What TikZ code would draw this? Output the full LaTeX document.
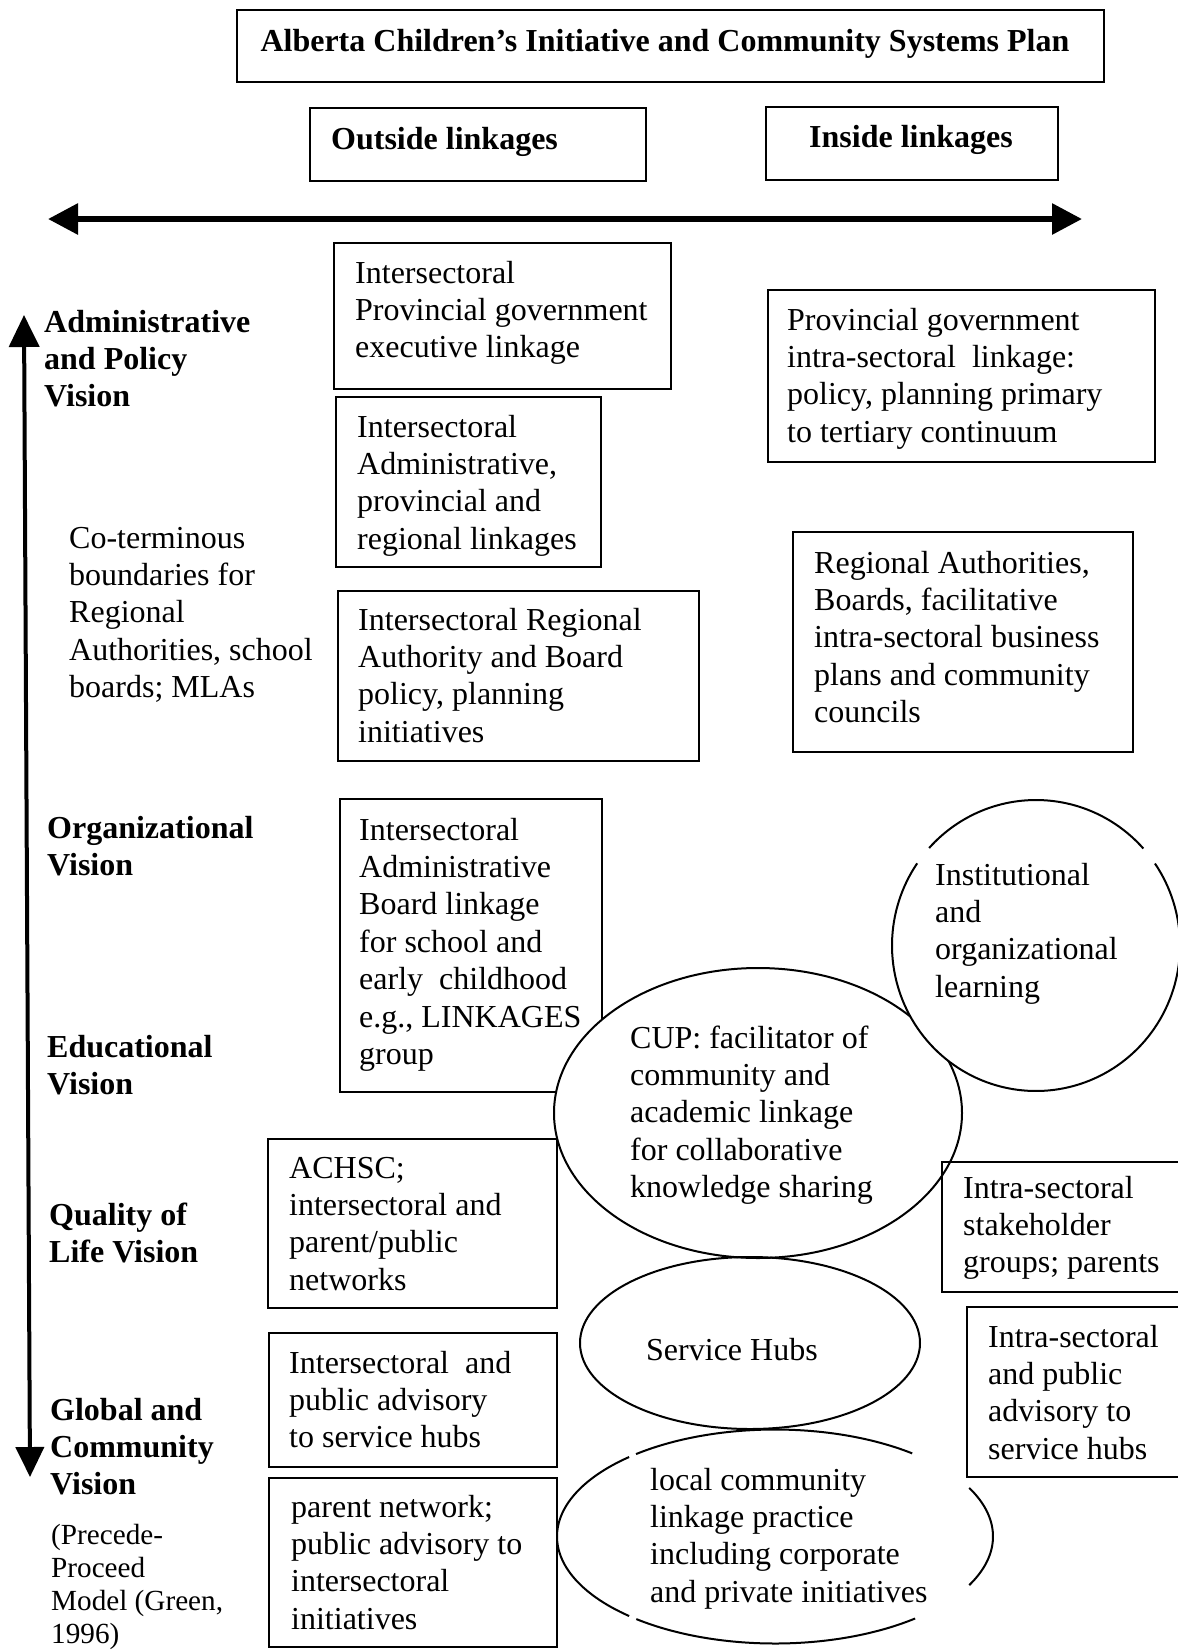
\documentclass[tikz,border=0pt]{standalone}
\usepackage{fontspec}
\setmainfont{Liberation Serif}
\usetikzlibrary{arrows.meta}
\newcommand\tb[1]{\begin{tabular}[t]{@{}l@{}}#1\end{tabular}}
\tikzset{
  box/.style={draw=black, line width=2.2pt},
  txt/.style={anchor=base west, inner sep=0pt, font=\fontsize{32}{37.4}\selectfont},
  btxt/.style={anchor=base west, inner sep=0pt, font=\fontsize{32}{37.2}\selectfont\bfseries},
  stxt/.style={anchor=base west, inner sep=0pt, font=\fontsize{29.2}{33}\selectfont},
  oval/.style={draw=black, line width=2pt},
}
\begin{document}
\begin{tikzpicture}[x=1pt,y=-1pt]
\useasboundingbox (0,0) rectangle (1178,1650);
\clip (0,0) rectangle (1178,1650);
\fill[white] (0,0) rectangle (1178,1650);

% header
\draw[box] (237,10) rectangle (1104,82);
\node[btxt, anchor=base] (title) at (665,51) {Alberta Children’s Initiative and Community Systems Plan};
\draw[box] (310,108) rectangle (646,181);
\node[btxt] (outside) at (331,149) {Outside linkages};
\draw[box] (766,107) rectangle (1058,180);
\node[btxt] (inside) at (809,147) {Inside linkages};

% arrows
\coordinate (hl) at (48,219);
\coordinate (hr) at (1082,219);
\draw[line width=6pt, {Triangle[length=30pt,width=30pt]}-{Triangle[length=30pt,width=30pt]}] (hl) -- (hr);
\coordinate (vt) at (24,315);
\coordinate (vb) at (30,1477);
\draw[line width=4pt, {Triangle[length=32pt,width=30pt]}-{Triangle[length=30pt,width=28pt]}] (vt) -- (vb);

% left labels
\node[btxt] (admin) at (44,332) {\tb{Administrative\\and Policy\\Vision}};
\node[txt] (coterm) at (69,548) {\tb{Co-terminous\\boundaries for\\Regional\\Authorities, school\\boards; MLAs}};
\node[btxt] (org) at (47,838) {\tb{Organizational\\Vision}};
\node[btxt] (edu) at (47,1057) {\tb{Educational\\Vision}};
\node[btxt] (qual) at (49,1225) {\tb{Quality of\\Life Vision}};
\node[btxt] (glob) at (50,1420) {\tb{Global and\\Community\\Vision}};
\node[stxt] (precede) at (51,1544) {\tb{(Precede-\\Proceed\\Model (Green,\\1996)}};

% outside boxes
\draw[box] (334,243) rectangle (671,389);
\node[txt] (provexec) at (355,283) {\tb{Intersectoral\\Provincial government\\executive linkage}};
\draw[box] (336,397) rectangle (601,567);
\node[txt] (adminprov) at (357,437) {\tb{Intersectoral\\Administrative,\\provincial and\\regional linkages}};
\draw[box] (338,591) rectangle (699,761);
\node[txt] (regauth) at (358,630) {\tb{Intersectoral Regional\\Authority and Board\\policy, planning\\initiatives}};
\draw[box] (340,799) rectangle (602,1092);
\node[txt] (linkages) at (359,840) {\tb{Intersectoral\\Administrative\\Board linkage\\for school and\\early\ \ childhood\\e.g., LINKAGES\\group}};
\draw[box] (268,1139) rectangle (557,1308);
\node[txt] (achsc) at (289,1178) {\tb{ACHSC;\\intersectoral and\\parent/public\\networks}};
\draw[box] (269,1333) rectangle (557,1467);
\node[txt] (pubadv) at (289,1373) {\tb{Intersectoral\ \ and\\public advisory\\to service hubs}};
\draw[box] (269,1478) rectangle (557,1647);
\node[txt] (parentnet) at (291,1517) {\tb{parent network;\\public advisory to\\intersectoral\\initiatives}};

% inside boxes
\draw[box] (768,290) rectangle (1155,462);
\node[txt] (provintra) at (787,330) {\tb{Provincial government\\intra-sectoral\ \ linkage:\\policy, planning primary\\to tertiary continuum}};
\draw[box] (793,532) rectangle (1133,752);
\node[txt] (regboards) at (814,573) {\tb{Regional Authorities,\\Boards, facilitative\\intra-sectoral business\\plans and community\\councils}};

% CUP ellipse
\filldraw[oval, fill=white] (758,1113) ellipse [x radius=204, y radius=145];
\node[txt] (cup) at (630,1048) {\tb{CUP: facilitator of\\community and\\academic linkage\\for collaborative\\knowledge sharing}};

% institutional ellipse (outline with small breaks)
\fill[white] (1036,945.5) ellipse [x radius=144, y radius=145.5];
\draw[oval] plot[domain=-34.3:214.4, samples=120] ({1036+144*cos(\x)},{945.5+145.5*sin(\x)});
\draw[oval] plot[domain=222.1:318.2, samples=60] ({1036+144*cos(\x)},{945.5+145.5*sin(\x)});
\node[txt] (inst) at (935,885) {\tb{Institutional\\and\\organizational\\learning}};

% service hubs
\draw[oval] (750,1343) ellipse [x radius=170, y radius=86];
\node[txt] (hubs) at (646,1360) {Service Hubs};

% local community ellipse (outline with breaks)
\draw[oval] plot[domain=-27:27, samples=40] ({775+218*cos(\x)},{1536.5+107*sin(\x)});
\draw[oval] plot[domain=50:129.5, samples=60] ({775+218*cos(\x)},{1536.5+107*sin(\x)});
\draw[oval] plot[domain=132:228, samples=60] ({775+218*cos(\x)},{1536.5+107*sin(\x)});
\draw[oval] plot[domain=230.4:309, samples=60] ({775+218*cos(\x)},{1536.5+107*sin(\x)});
\node[txt] (local) at (650,1490) {\tb{local community\\linkage practice\\including corporate\\and private initiatives}};

% right lower boxes
\draw[box] (942,1162) rectangle (1195,1292);
\node[txt] (stake) at (963,1198) {\tb{Intra-sectoral\\stakeholder\\groups; parents}};
\draw[box] (967,1307) rectangle (1195,1477);
\node[txt] (intrapub) at (988,1347) {\tb{Intra-sectoral\\and public\\advisory to\\service hubs}};
\end{tikzpicture}
\end{document}
